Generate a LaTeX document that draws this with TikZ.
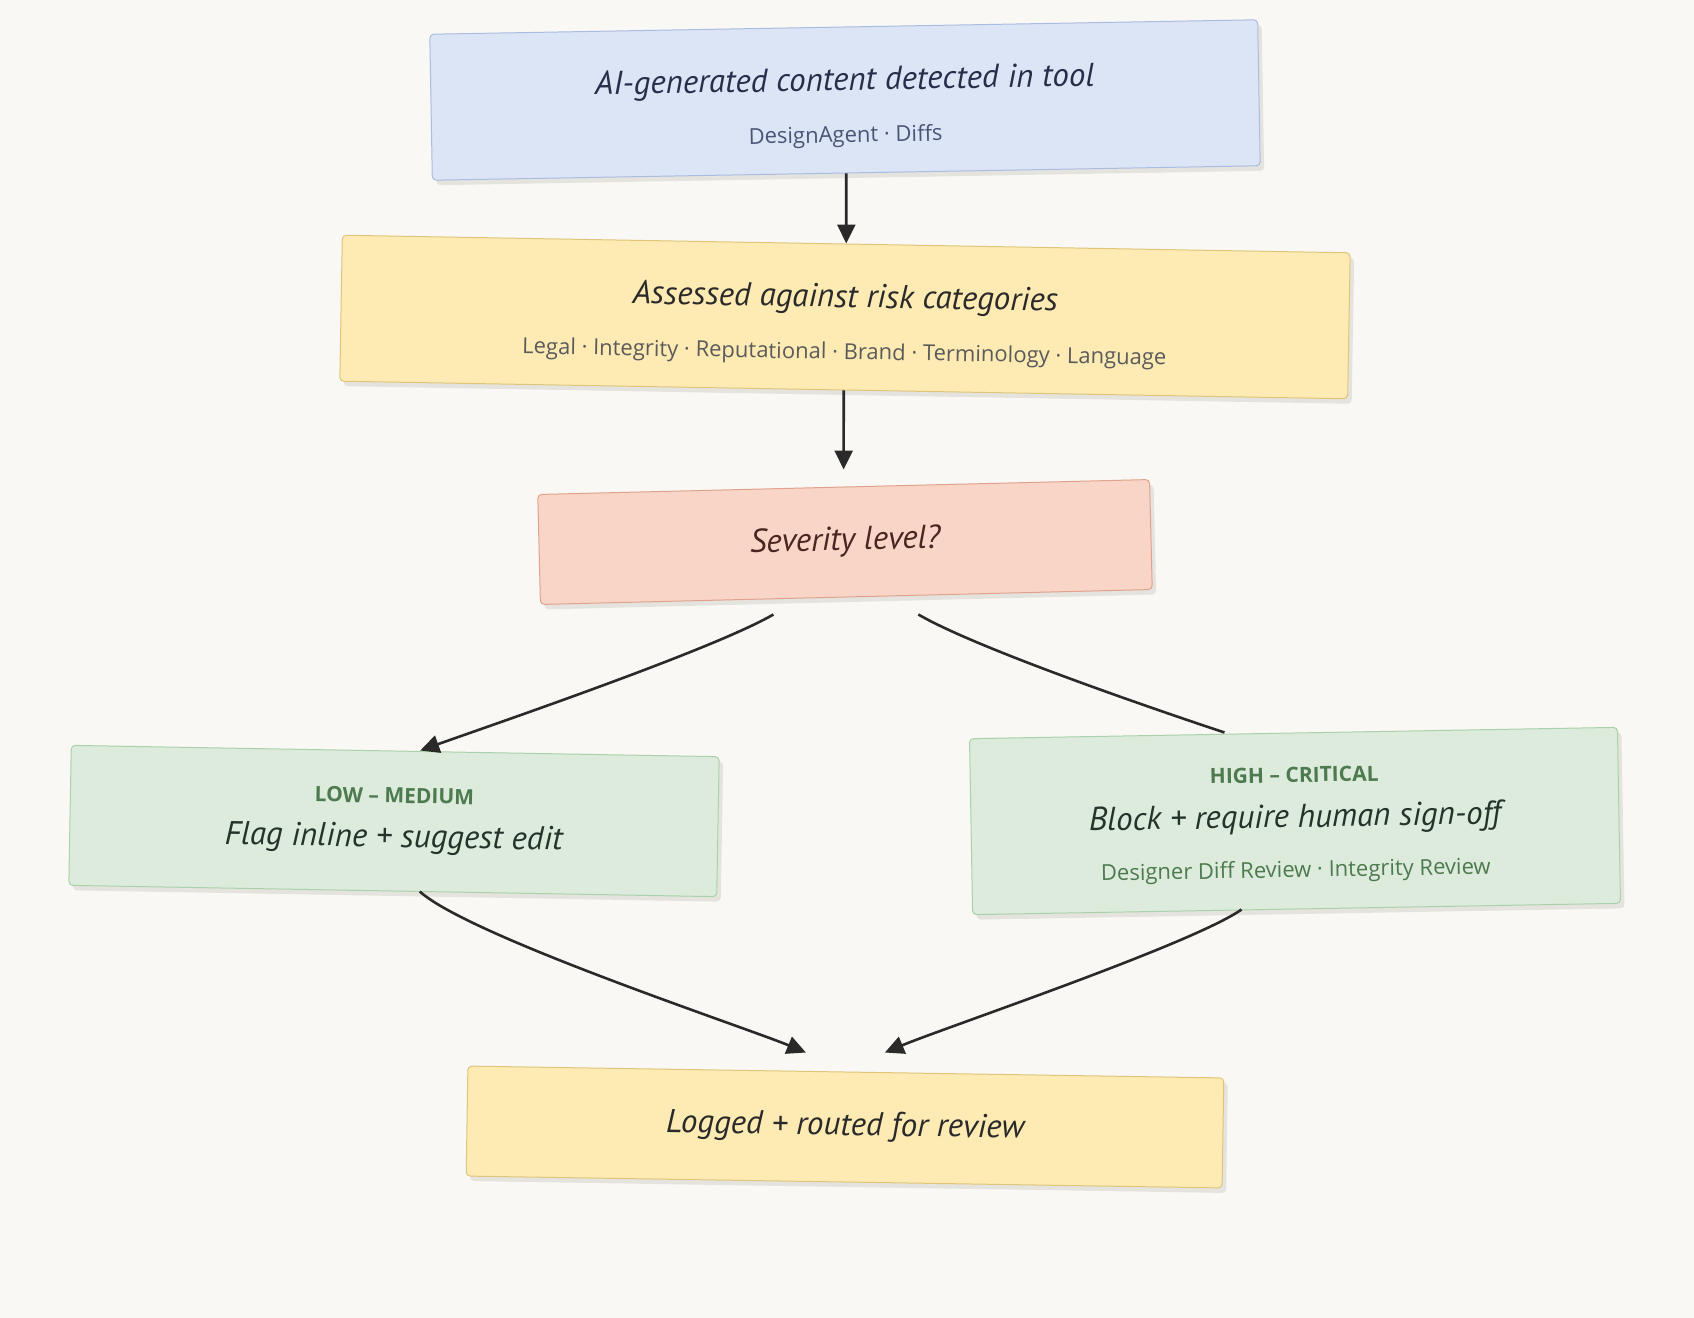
\documentclass[tikz,border=0pt]{standalone}
\usepackage{fontspec}
\setmainfont{Open Sans}
\newfontfamily\handfont{PT Sans}
\usetikzlibrary{arrows.meta,positioning,shadows}
\definecolor{PageBg}{HTML}{F9F8F4}
\definecolor{ShadowGray}{HTML}{E5E3DE}
\definecolor{LinkInk}{HTML}{2A2A2A}
\definecolor{DetectFill}{HTML}{DCE5F5}
\definecolor{DetectLine}{HTML}{AABCE0}
\definecolor{DetectInk}{HTML}{262E4A}
\definecolor{DetectSub}{HTML}{4B5575}
\definecolor{RiskFill}{HTML}{FDEBB3}
\definecolor{RiskLine}{HTML}{DFC579}
\definecolor{RiskInk}{HTML}{2A2A2A}
\definecolor{RiskSub}{HTML}{5B5B5B}
\definecolor{SevFill}{HTML}{F9D5C8}
\definecolor{SevLine}{HTML}{DFA28C}
\definecolor{SevInk}{HTML}{4A2620}
\definecolor{ActFill}{HTML}{DCEBDB}
\definecolor{ActLine}{HTML}{AAD2AA}
\definecolor{ActInk}{HTML}{23342A}
\definecolor{ActTag}{HTML}{4E7A50}
\newcommand\boxtitle[1]{{\handfont\itshape\fontsize{16.5}{19}\selectfont #1}}
\newcommand\boxnote[1]{{\fontsize{11}{13}\selectfont #1}}
\newcommand\boxtag[1]{{\color{ActTag}\bfseries\fontsize{10.5}{12}\selectfont #1}}

\begin{document}
\begin{tikzpicture}[
  x=0.5pt,y=-0.5pt,
  every node/.style={align=center},
  box/.style={draw,rounded corners=2pt,line width=0.5pt,inner sep=0pt,
              font=\fontsize{11}{12}\selectfont,
              drop shadow={shadow xshift=2pt,shadow yshift=-2.5pt,
                           fill=ShadowGray,opacity=1}},
  link/.style={-{Triangle[length=9.5pt,width=9pt]},line width=1.3pt,draw=LinkInk},
  wire/.style={line width=1.3pt,draw=LinkInk}
]
  \fill[PageBg] (0,0) rectangle (1694,1318);

  \node[box,fill=DetectFill,draw=DetectLine,text=DetectInk,
        minimum width=414pt,minimum height=73pt,rotate=1] (detect) at (845,100)
    {\rule{0pt}{19pt}\boxtitle{AI-generated content detected in tool}\\[14pt]
     {\color{DetectSub}\boxnote{DesignAgent · Diffs}}};
  \node[box,fill=RiskFill,draw=RiskLine,text=RiskInk,
        minimum width=504pt,minimum height=73pt,rotate=-1] (assess) at (845,317)
    {\rule{0pt}{19pt}\boxtitle{Assessed against risk categories}\\[14pt]
     {\color{RiskSub}\boxnote{Legal · Integrity · Reputational · Brand · Terminology · Language}}};
  \node[box,fill=SevFill,draw=SevLine,text=SevInk,
        minimum width=306pt,minimum height=55pt,rotate=1.4] (severity) at (845,542)
    {\boxtitle{Severity level?}};
  \node[box,fill=ActFill,draw=ActLine,text=ActInk,
        minimum width=324pt,minimum height=70pt,rotate=-1] (low) at (394,821)
    {\boxtag{LOW – MEDIUM}\\[10pt]
     \boxtitle{Flag inline + suggest edit}};
  \node[box,fill=ActFill,draw=ActLine,text=ActInk,
        minimum width=324pt,minimum height=88pt,rotate=1] (high) at (1295,821)
    {\rule{0pt}{11.5pt}\boxtag{HIGH – CRITICAL}\\[10.5pt]
     \boxtitle{Block + require human sign-off}\\[13pt]
     {\color{ActTag}\boxnote{Designer Diff Review · Integrity Review}}};
  \node[box,fill=RiskFill,draw=RiskLine,text=RiskInk,
        minimum width=378pt,minimum height=55pt,rotate=-0.9] (logged) at (845,1127)
    {\boxtitle{Logged + routed for review}};

  % connectors
  \draw[link] (detect.south) -- (assess.north);
  \draw[link,shorten >=8.5pt] (assess.south) -- (severity.north);
  \draw[link] ([xshift=-36.5pt,yshift=-8.5pt]severity.south)
    .. controls +(-60,35) and +(70,-25) .. ([xshift=12.5pt]low.north);
  \draw[wire] ([xshift=36pt,yshift=-8.5pt]severity.south)
    .. controls +(60,35) and +(-60,-20) .. ([xshift=-34.5pt]high.north);
  \draw[link] ([xshift=13.5pt]low.south)
    .. controls +(50,45) and +(-60,-25) .. ([xshift=-20pt,yshift=9.5pt]logged.north);
  \draw[link] ([xshift=-27.5pt]high.south)
    .. controls +(-50,35) and +(60,-25) .. ([xshift=19.5pt,yshift=9.5pt]logged.north);
\end{tikzpicture}
\end{document}
